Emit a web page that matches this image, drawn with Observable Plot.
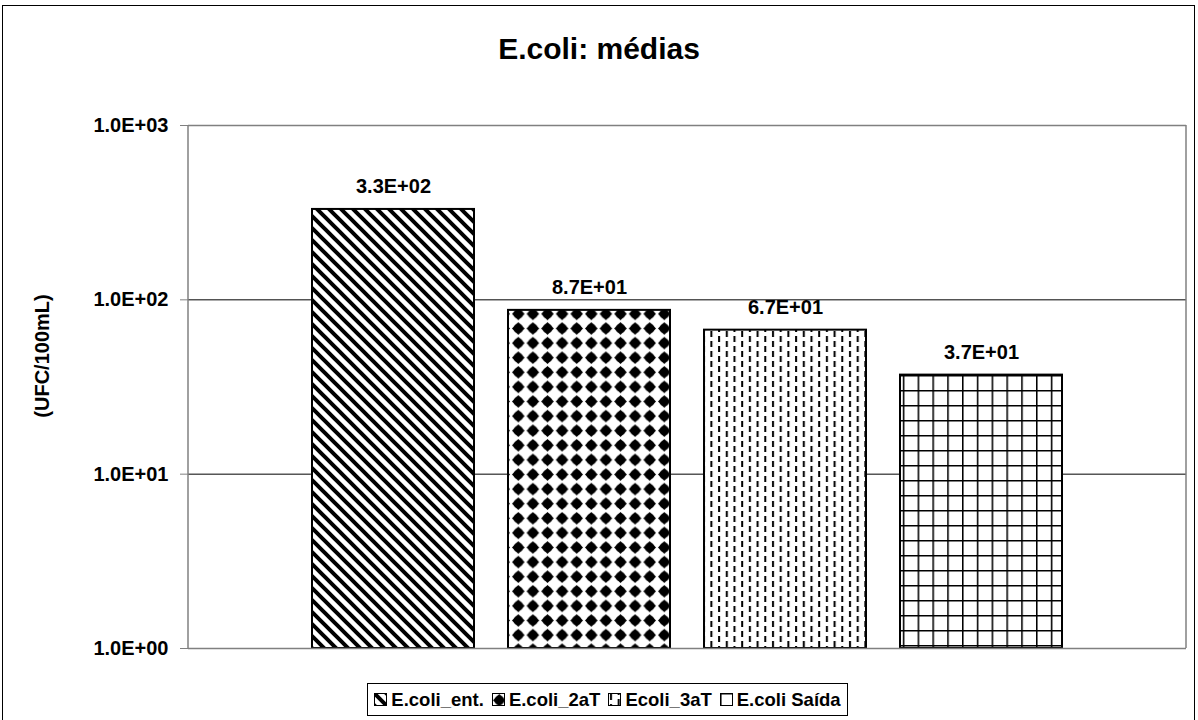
<!DOCTYPE html>
<html>
<head>
<meta charset="utf-8">
<script src="https://cdn.jsdelivr.net/npm/d3@7"></script>
<script src="https://cdn.jsdelivr.net/npm/@observablehq/plot@0.6"></script>
<style>
  body { margin: 0; background: #fff; }
  #chart { position: relative; width: 1198px; height: 720px; overflow: hidden; font-family: "Liberation Sans", Arial, sans-serif; }
  #frame { position: absolute; left: 2px; top: 5px; width: 1193px; height: 730px; border: 1px solid #000; box-sizing: border-box; pointer-events: none; }
  #title { position: absolute; left: 0; width: 1198px; top: 32px; text-align: center; font-weight: bold; font-size: 30px; }
  #ylabel { position: absolute; left: 42px; top: 356px; transform: translate(-50%, -50%) rotate(-90deg); font-weight: bold; font-size: 20px; white-space: nowrap; }
  #legend { position: absolute; left: 367px; top: 683px; width: 481px; height: 33px; border: 1px solid #000; box-sizing: border-box; display: flex; align-items: center; justify-content: center; gap: 8px; font-weight: bold; font-size: 18.5px; white-space: nowrap; }
  #legend .item { display: flex; align-items: center; gap: 4px; }
  #legend svg { display: block; }
</style>
</head>
<body>
<div id="chart">
  <div id="frame"></div>
  <div id="title"></div>
  <div id="ylabel"></div>
  <div id="legend"></div>
</div>
<script>
const title = "E.coli: médias";
const yLabel = "(UFC/100mL)";
const categories = ["E.coli_ent.", "E.coli_2aT", "Ecoli_3aT", "E.coli Saída"];
const values = [330, 87, 67, 37];
const patternIds = ["pDiag", "pDiamond", "pDash", "pGrid"];
const yTicks = [1, 10, 100, 1000];

const data = categories.map((c, i) => ({cat: c, val: values[i], pat: patternIds[i]}));

function sci(d) {
  const [m, e] = d.toExponential(1).split("e");
  const sign = e[0] === "-" ? "-" : "+";
  const digits = e.replace(/[+-]/, "").padStart(2, "0");
  return `${m}E${sign}${digits}`;
}

const ns = "http://www.w3.org/2000/svg";

function defsMark() {
  const g = document.createElementNS(ns, "g");
  g.innerHTML = `
  <defs>
    <pattern id="pDiag" patternUnits="userSpaceOnUse" width="12" height="12">
      <rect width="12" height="12" fill="#fff"/>
      <path d="M-3,-3 L15,15 M-3,9 L3,15 M9,-3 L15,3" stroke="#000" stroke-width="4"/>
    </pattern>
    <pattern id="pDiamond" patternUnits="userSpaceOnUse" width="14.6" height="14.6">
      <rect width="14.6" height="14.6" fill="#fff"/>
      <path d="M7.3,1 L13.6,7.3 L7.3,13.6 L1,7.3 Z" fill="#000"/>
      <circle cx="7.3" cy="7.3" r="4.8" fill="#000"/>
    </pattern>
    <pattern id="pDash" patternUnits="userSpaceOnUse" width="15.4" height="10">
      <rect width="15.4" height="10" fill="#fff"/>
      <rect x="2" y="1" width="2" height="6" fill="#000"/>
      <rect x="9.7" y="6" width="2" height="6" fill="#000"/>
      <rect x="9.7" y="-4" width="2" height="6" fill="#000"/>
    </pattern>
    <pattern id="pGrid" patternUnits="userSpaceOnUse" width="14.8" height="15">
      <rect width="14.8" height="15" fill="#fff"/>
      <path d="M0.75,0 V15 M0,0.75 H14.8" stroke="#000" stroke-width="1.6"/>
    </pattern>
  </defs>`;
  return g;
}

// plot-area side border lines (left axis line and right border)
function sideLines(index, scales, values, dims) {
  const g = document.createElementNS(ns, "g");
  const x0 = dims.marginLeft, x1 = dims.width - dims.marginRight;
  const y0 = dims.marginTop, y1 = dims.height - dims.marginBottom;
  g.innerHTML = `<line x1="${x0}" x2="${x0}" y1="${y0}" y2="${y1}" stroke="#808080" stroke-width="1.5"/>
                 <line x1="${x1}" x2="${x1}" y1="${y0}" y2="${y1}" stroke="#808080" stroke-width="1.5"/>`;
  return g;
}

const plot = Plot.plot({
  width: 1198,
  height: 720,
  marginLeft: 188,
  marginRight: 12,
  marginTop: 125,
  marginBottom: 72,
  style: {fontFamily: "'Liberation Sans', Arial, sans-serif", fontWeight: "bold", fontSize: "20px", color: "#000", background: "transparent"},
  x: {domain: categories, paddingInner: 0.173, paddingOuter: 0.62, axis: null},
  y: {type: "log", domain: [1, 1000], axis: null},
  marks: [
    defsMark,
    Plot.ruleY(yTicks.slice(1, 3), {stroke: "#000", strokeWidth: 1}),
    Plot.ruleY([yTicks[3]], {stroke: "#808080", strokeWidth: 1.5}),
    ...data.map(d => Plot.barY([d], {x: "cat", y1: 1, y2: "val", fill: `url(#${d.pat})`, stroke: "#000", strokeWidth: 2})),
    Plot.axisY({ticks: yTicks, tickFormat: sci, tickSize: 8, tickPadding: 12, stroke: "#808080", fontSize: 20, fontWeight: "bold", label: null}),
    sideLines,
    Plot.ruleY([yTicks[0]], {stroke: "#808080", strokeWidth: 1.5}),
    Plot.text(data, {x: "cat", y: "val", text: d => sci(d.val), dy: -23, fontSize: 20, fontWeight: "bold", fill: "#000"})
  ]
});

document.getElementById("chart").insertBefore(plot, document.getElementById("frame"));
plot.style.position = "absolute";
plot.style.left = "0";
plot.style.top = "0";

document.getElementById("title").textContent = title;
document.getElementById("ylabel").textContent = yLabel;

const legend = document.getElementById("legend");
categories.forEach((c, i) => {
  const item = document.createElement("div");
  item.className = "item";
  item.innerHTML = `<svg width="13" height="13"><rect x="0.5" y="0.5" width="12" height="12" fill="url(#${patternIds[i]})" stroke="#000" stroke-width="1"/></svg><span>${c}</span>`;
  legend.appendChild(item);
});
</script>
</body>
</html>
